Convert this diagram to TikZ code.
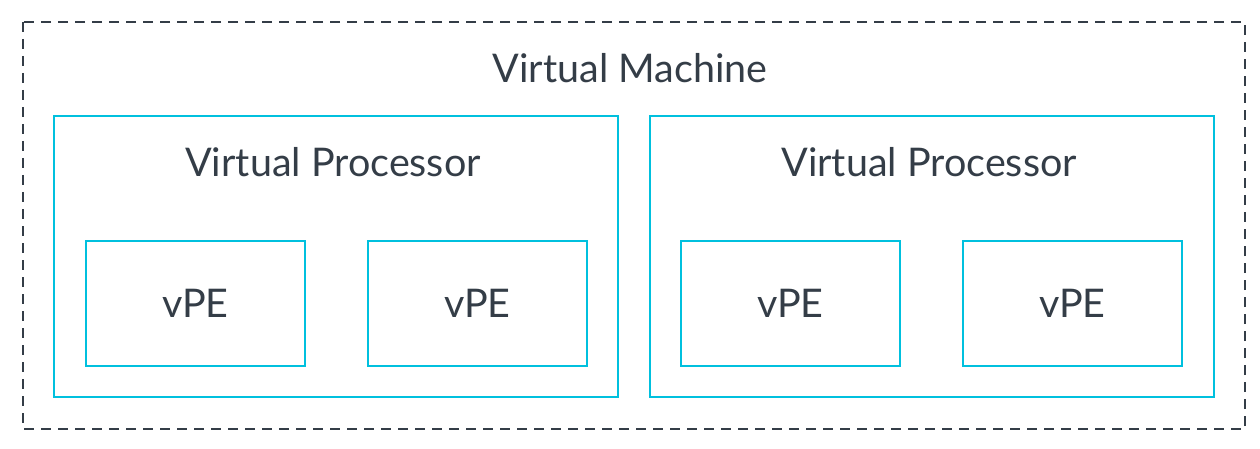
\documentclass[tikz,border=0pt]{standalone}
\usepackage{fontspec}
\setmainfont{Lato}
\usetikzlibrary{positioning}
\definecolor{vmcyan}{RGB}{0,192,222}
\definecolor{vmtext}{RGB}{52,61,71}
\tikzstyle{machine}=[draw=vmtext,line width=2.4pt,dash pattern=on 10pt off 7pt,inner sep=0pt]
\tikzstyle{proc}=[draw=vmcyan,line width=2.2pt,minimum width=564pt,minimum height=281pt,inner sep=0pt]
\tikzstyle{vpe}=[draw=vmcyan,line width=2.2pt,minimum width=219pt,minimum height=125pt,inner sep=0pt,text=vmtext,font=\fontsize{39.5}{44}\selectfont]
\tikzstyle{title}=[text=vmtext,font=\fontsize{39.5}{44}\selectfont,anchor=base]

\begin{document}
\begin{tikzpicture}[x=1pt,y=-1pt]

    \useasboundingbox (0,0) rectangle (1260,449);

    \draw[machine] (23,22) rectangle (1245,429);
    \node[title] (vm) at (630,83) {Virtual Machine};

     \foreach \x/\name in {336/p1, 932/p2}
        \node[proc] (\name) at (\x,256.5) {};

     \foreach \x/\name in {333/p1, 929/p2}
        \node[title] (\name label) at (\x,177) {Virtual Processor};

     \foreach \x/\name in {195.5/e1, 477.5/e2, 790.5/e3, 1072.5/e4}
        \node[vpe] (\name) at (\x,303.5) {vPE};

\end{tikzpicture}
\end{document}
